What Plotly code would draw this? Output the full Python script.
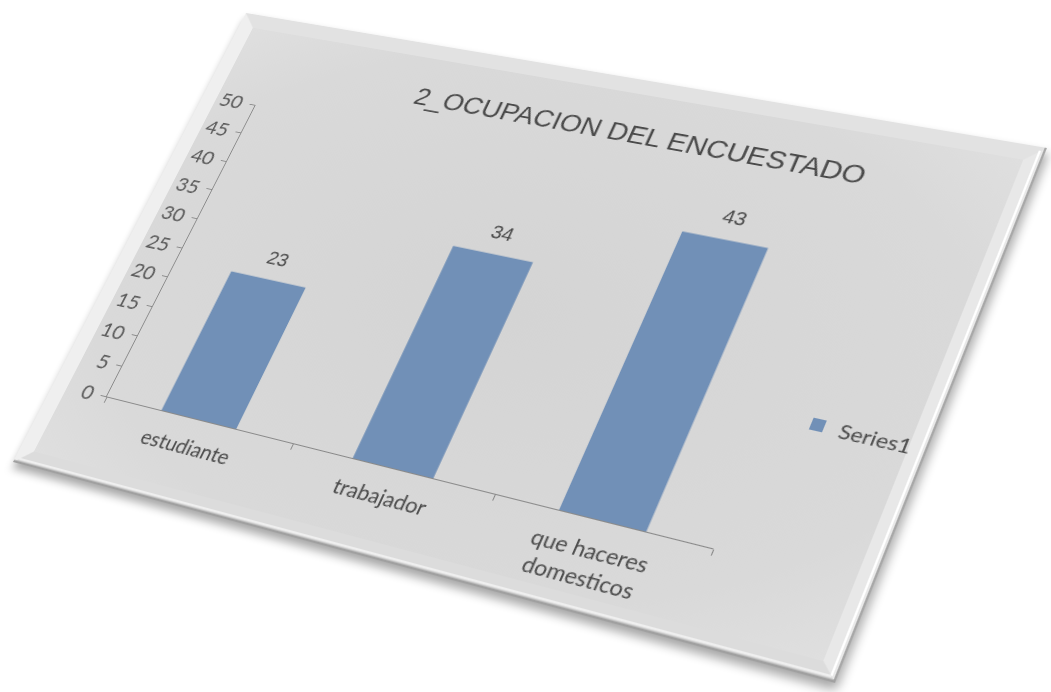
import base64
import numpy as np
import plotly.graph_objects as go

# ---- chart data -------------------------------------------------------------
categories = ["estudiante", "trabajador", "que haceres domesticos"]
category_labels = ["estudiante", "trabajador", "que haceres<br>domesticos"]
values = [23, 34, 43]
series_name = "Series1"
y_tick_values = [0, 5, 10, 15, 20, 25, 30, 35, 40, 45, 50]
title_text = "2_OCUPACION DEL ENCUESTADO"

# ---- flat chart geometry ----------------------------------------------------
W, H = 830, 540
ML, MR, MT, MB = 62, 142, 104, 90
PW, PH = W - ML - MR, H - MT - MB

# page position of the four corners of the tilted board (TL, TR, BR, BL)
board_corners = [(246, 13), (1047, 148), (835, 683), (13, 462)]

BAR_COLOR = "#7190b7"
TEXT_COLOR = "#4a4a4a"
AXIS_COLOR = "#8a8a8a"


def homography(src, dst):
    rows, rhs = [], []
    for (x, y), (X, Y) in zip(src, dst):
        rows.append([x, y, 1, 0, 0, 0, -x * X, -y * X]); rhs.append(X)
        rows.append([0, 0, 0, x, y, 1, -x * Y, -y * Y]); rhs.append(Y)
    return np.linalg.solve(np.array(rows, float), np.array(rhs, float))


h = homography([(0, 0), (W, 0), (W, H), (0, H)], board_corners)
m3d = [h[0], h[3], 0, h[6],
       h[1], h[4], 0, h[7],
       0, 0, 1, 0,
       h[2], h[5], 0, 1]
m3d_css = "matrix3d(" + ",".join(f"{v:.10f}" for v in m3d) + ")"

# ---- board artwork (bevelled grey panel) ------------------------------------
b = 16
board_svg = f"""<svg xmlns="http://www.w3.org/2000/svg" width="{W}" height="{H}" viewBox="0 0 {W} {H}">
<defs>
<radialGradient id="g" cx="0.5" cy="0.5" r="0.75">
<stop offset="0" stop-color="#d4d4d4"/><stop offset="0.7" stop-color="#d9d9d9"/><stop offset="1" stop-color="#e2e2e2"/>
</radialGradient>
</defs>
<rect width="{W}" height="{H}" fill="url(#g)"/>
<polygon points="0,0 {W},0 {W-b},{b} {b},{b}" fill="#e2e2e2"/>
<polygon points="{W},0 {W},{H} {W-b},{H-b} {W-b},{b}" fill="#e8e8e8"/>
<polygon points="0,{H} {W},{H} {W-b},{H-b} {b},{H-b}" fill="#dcdcdc"/>
<polygon points="0,0 0,{H} {b},{H-b} {b},{b}" fill="#efefef"/>
<line x1="{W-5}" y1="4" x2="{W-5}" y2="{H-5}" stroke="#ffffff" stroke-width="2"/>
<line x1="4" y1="{H-5}" x2="{W-5}" y2="{H-5}" stroke="#efefef" stroke-width="2"/>
<line x1="{W-1}" y1="0" x2="{W-1}" y2="{H}" stroke="#a8a8a8" stroke-width="2"/>
<line x1="0" y1="{H-1}" x2="{W}" y2="{H-1}" stroke="#a0a0a0" stroke-width="3"/>
</svg>"""
board_uri = "data:image/svg+xml;base64," + base64.b64encode(board_svg.encode()).decode()

# ---- figure -----------------------------------------------------------------
fig = go.Figure()
fig.add_trace(go.Bar(
    x=categories, y=values, name=series_name,
    marker=dict(color=BAR_COLOR, line=dict(width=0)),
    hoverinfo="x+y",
))

# value labels sit a little above each bar
for cat, val in zip(categories, values):
    fig.add_annotation(
        x=cat, y=val, text=str(val), showarrow=False,
        xanchor="center", yanchor="middle", yshift=24,
        font=dict(family="Liberation Sans, Arial, sans-serif", size=20, color=TEXT_COLOR),
    )

fig.update_layout(
    width=W, height=H,
    margin=dict(l=ML, r=MR, t=MT, b=MB, pad=0, autoexpand=False),
    paper_bgcolor="#d9d9d9",
    plot_bgcolor="rgba(0,0,0,0)",
    bargap=0.6,
    showlegend=True,
    title=dict(text=title_text, x=0.547, y=1 - 60 / H, xanchor="center", yanchor="middle",
               font=dict(family="Liberation Sans, Arial, sans-serif", size=28, color=TEXT_COLOR)),
    legend=dict(xref="container", yref="container", x=712 / W, y=1 - 314 / H,
                xanchor="left", yanchor="middle",
                bgcolor="rgba(0,0,0,0)", itemwidth=30,
                font=dict(family="Lato, sans-serif", size=20, color=TEXT_COLOR)),
    xaxis=dict(
        type="category", tickmode="array", tickvals=categories, ticktext=category_labels,
        showline=True, linecolor=AXIS_COLOR, linewidth=1,
        ticks="outside", tickson="boundaries", ticklen=6, tickcolor=AXIS_COLOR,
        ticklabelstandoff=12, automargin=False,
        showgrid=False, zeroline=False,
        tickfont=dict(family="Lato, sans-serif", size=21, color=TEXT_COLOR),
    ),
    yaxis=dict(
        range=[0, 50], tickmode="array", tickvals=y_tick_values,
        showline=True, linecolor=AXIS_COLOR, linewidth=1,
        ticks="outside", ticklen=6, tickcolor=AXIS_COLOR,
        ticklabelstandoff=4, automargin=False,
        showgrid=False, zeroline=False,
        tickfont=dict(family="Lato, sans-serif", size=22, color="#5a5a5a"),
    ),
    images=[dict(source=board_uri, xref="paper", yref="paper",
                 x=-ML / PW, y=1 + MT / PH, sizex=W / PW, sizey=H / PH,
                 xanchor="left", yanchor="top", sizing="stretch", layer="below")],
)

post = """
var gd = document.getElementById('{plot_id}');
document.body.style.margin = '0';
document.body.style.overflow = 'hidden';
document.body.style.background = '#ffffff';
gd.style.position = 'absolute';
gd.style.left = '0px';
gd.style.top = '0px';
gd.style.transformOrigin = '0 0';
gd.style.transform = '""" + m3d_css + """';
gd.style.filter = 'drop-shadow(3px 6px 5px rgba(0,0,0,0.35))';
"""

fig.write_html("out.html", config=dict(displayModeBar=False), post_script=post)
